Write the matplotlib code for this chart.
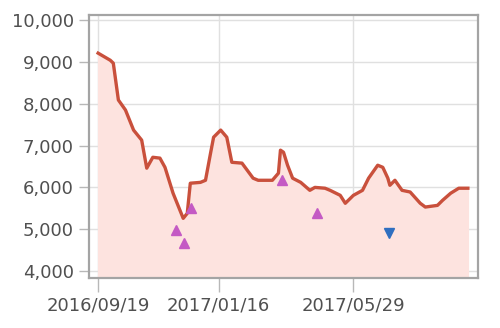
import numpy as np
import pandas as pd
import matplotlib
matplotlib.use('Agg')
import matplotlib.pyplot as plt
import matplotlib.dates as mdates
from matplotlib.ticker import FuncFormatter

# price trace
dates = ['2016-09-19', '2016-10-01', '2016-10-04', '2016-10-09', '2016-10-16',
         '2016-10-24', '2016-11-01', '2016-11-06', '2016-11-12', '2016-11-19',
         '2016-11-24', '2016-12-02', '2016-12-12', '2016-12-16', '2016-12-19',
         '2016-12-29', '2017-01-03', '2017-01-08', '2017-01-11', '2017-01-18',
         '2017-01-24', '2017-01-29', '2017-02-08', '2017-02-19', '2017-02-24',
         '2017-03-10', '2017-03-16', '2017-03-18', '2017-03-21', '2017-03-25',
         '2017-03-30', '2017-04-07', '2017-04-16', '2017-04-21', '2017-05-01',
         '2017-05-06', '2017-05-16', '2017-05-21', '2017-05-29', '2017-06-07',
         '2017-06-13', '2017-06-22', '2017-06-27', '2017-07-02', '2017-07-04',
         '2017-07-09', '2017-07-16', '2017-07-24', '2017-08-03', '2017-08-08',
         '2017-08-20', '2017-08-25', '2017-09-02', '2017-09-10', '2017-09-19']
values = [9210, 9040, 8970, 8090, 7850,
          7370, 7130, 6460, 6720, 6700,
          6480, 5860, 5260, 5380, 6100,
          6120, 6170, 6820, 7200, 7370,
          7200, 6600, 6580, 6220, 6170,
          6170, 6340, 6890, 6840, 6530,
          6220, 6120, 5930, 6000, 5980,
          5930, 5810, 5620, 5810, 5930,
          6220, 6530, 6480, 6220, 6050,
          6170, 5930, 5890, 5620, 5530,
          5570, 5690, 5860, 5980, 5980]

# signal markers
up_dates = ['2016-12-05', '2016-12-13', '2016-12-20', '2017-03-20', '2017-04-23']
up_values = [4980, 4670, 5500, 6170, 5380]
down_dates = ['2017-07-03']
down_values = [4900]

xtick_dates = ['2016-09-19', '2017-01-16', '2017-05-29']
ytick_values = [4000, 5000, 6000, 7000, 8000, 9000, 10000]

x = pd.to_datetime(dates)
fig = plt.figure(figsize=(5, 3.28), dpi=100)
ax = fig.add_axes([0.178, 0.152, 0.778, 0.802])

ymin, ymax = 3830, 10120
ax.fill_between(x, values, ymin, color='#fde3df', zorder=1)
ax.plot(x, values, color='#c9503c', lw=2.4, zorder=3)
ax.plot(pd.to_datetime(up_dates), up_values, '^', color='#c45ac4', ms=6.5, zorder=4)
ax.plot(pd.to_datetime(down_dates), down_values, 'v', color='#2f6fc0', ms=7, zorder=4)

ax.set_ylim(ymin, ymax)
ax.set_xlim(pd.Timestamp('2016-09-10'), pd.Timestamp('2017-09-29'))
ax.set_yticks(ytick_values)
ax.yaxis.set_major_formatter(FuncFormatter(lambda v, p: f'{int(v):,}'))
ax.set_xticks(pd.to_datetime(xtick_dates))
ax.xaxis.set_major_formatter(mdates.DateFormatter('%Y/%m/%d'))

ax.grid(True, color='#e0e0e0', lw=1, zorder=0)
ax.set_axisbelow(True)
for s in ax.spines.values():
    s.set_color('#a4a4a4')
    s.set_linewidth(1.6)
ax.tick_params(axis='both', colors='#b8b8b8', labelcolor='#505050', labelsize=13)
ax.tick_params(axis='x', length=10, width=1, pad=3)
ax.tick_params(axis='y', length=7, width=1, pad=4)

fig.savefig('out.png', dpi=100, facecolor='white')
